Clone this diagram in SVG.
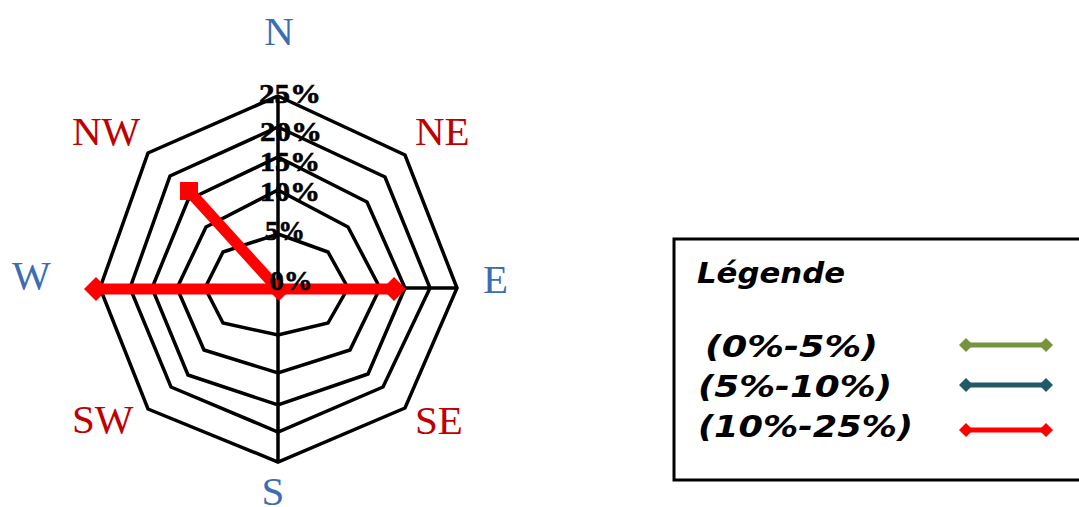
<svg xmlns="http://www.w3.org/2000/svg" width="1079" height="507" viewBox="0 0 1079 507">
<style>
.ring{fill:none;stroke:#000;stroke-width:3.5;stroke-linejoin:miter}
.axis{stroke:#000;stroke-width:3.5}
.pct{font-family:"Liberation Serif","DejaVu Serif",serif;font-weight:bold;font-size:27px;fill:#000;text-anchor:middle;stroke:#000;stroke-width:0.6}
.dirb{font-family:"Liberation Serif","DejaVu Serif",serif;font-size:41px;fill:#3b6db3}
.dirr{font-family:"Liberation Serif","DejaVu Serif",serif;font-size:41px;fill:#c00000}
.leg{font-family:"DejaVu Sans","Liberation Sans",sans-serif;font-weight:bold;font-style:italic;fill:#000}
.ser{stroke:#ff0000;stroke-width:11;fill:none}
.mk{fill:#ff0000}
</style>
<rect width="1079" height="507" fill="#fff"/>
<g id="grid">
<polygon class="ring" points="278,234 328,252 348,288 328,323 278,335 223,323 205,288 223,252"/>
<polygon class="ring" points="278,190 348,227 380,288 350,350 278,373 204,350 177,288 206,227"/>
<polygon class="ring" points="278,157 367,202 405,288 368,374 278,405 188,375 152,288 188,200"/>
<polygon class="ring" points="278,127 385,177 430,288 383,387 278,432 171,387 130,288 170,176"/>
<polygon class="ring" points="278,96 405,155 457,288 405,408 278,462 148,409 100,288 148,153"/>
<line class="axis" x1="278" y1="96" x2="278" y2="462"/>
<line class="axis" x1="100" y1="288" x2="457" y2="288"/>
</g>
<g id="series">
<line class="ser" x1="96" y1="289" x2="394" y2="289"/>
<line class="ser" x1="278" y1="289" x2="189" y2="191" stroke-width="10"/>
<polygon class="mk" points="96,277 108,289 96,301 84,289"/>
<polygon class="mk" points="394,277 406,289 394,301 382,289"/>
<polygon class="mk" points="279,279 290,290 279,301 268,290"/>
<rect class="mk" x="180" y="182" width="18" height="18"/>
</g>
<g id="pct-labels">
<text class="pct" x="290" y="103" textLength="62" lengthAdjust="spacingAndGlyphs">25%</text>
<text class="pct" x="291" y="141" textLength="62" lengthAdjust="spacingAndGlyphs">20%</text>
<text class="pct" x="290" y="171" textLength="60" lengthAdjust="spacingAndGlyphs">15%</text>
<text class="pct" x="290" y="201" textLength="60" lengthAdjust="spacingAndGlyphs">10%</text>
<text class="pct" x="285" y="240" textLength="40" lengthAdjust="spacingAndGlyphs">5%</text>
<text class="pct" x="291" y="290" textLength="43" lengthAdjust="spacingAndGlyphs">0%</text>
</g>
<g id="dir-labels">
<text class="dirb" x="279" y="45" text-anchor="middle">N</text>
<text class="dirr" x="72" y="145">NW</text>
<text class="dirr" x="415" y="145">NE</text>
<text class="dirb" x="12" y="289">W</text>
<text class="dirb" x="483" y="293">E</text>
<text class="dirr" x="72" y="433">SW</text>
<text class="dirr" x="415" y="434">SE</text>
<text class="dirb" x="273" y="505" text-anchor="middle" font-size="40">S</text>
</g>
<g id="legend">
<rect x="674" y="239" width="420" height="241" fill="#fff" stroke="#000" stroke-width="3"/>
<text class="leg" x="697" y="283" font-size="28" textLength="148" lengthAdjust="spacingAndGlyphs">Légende</text>
<text class="leg" x="705" y="357" font-size="30" textLength="173" lengthAdjust="spacingAndGlyphs">(0%-5%)</text>
<text class="leg" x="698" y="397" font-size="30" textLength="194" lengthAdjust="spacingAndGlyphs">(5%-10%)</text>
<text class="leg" x="698" y="437" font-size="30" textLength="215" lengthAdjust="spacingAndGlyphs">(10%-25%)</text>
<g id="leg-green">
<line x1="966" y1="345" x2="1046" y2="345" stroke="#77933c" stroke-width="5"/>
<polygon points="966,338 973,345 966,352 959,345" fill="#77933c"/>
<polygon points="1046,338 1053,345 1046,352 1039,345" fill="#77933c"/>
</g>
<g id="leg-teal">
<line x1="966" y1="385" x2="1046" y2="385" stroke="#215968" stroke-width="5"/>
<polygon points="966,378 973,385 966,392 959,385" fill="#215968"/>
<polygon points="1046,378 1053,385 1046,392 1039,385" fill="#215968"/>
</g>
<g id="leg-red">
<line x1="966" y1="430" x2="1046" y2="430" stroke="#ff0000" stroke-width="5"/>
<polygon points="966,423 973,430 966,437 959,430" fill="#ff0000"/>
<polygon points="1046,423 1053,430 1046,437 1039,430" fill="#ff0000"/>
</g>
</g>
</svg>
